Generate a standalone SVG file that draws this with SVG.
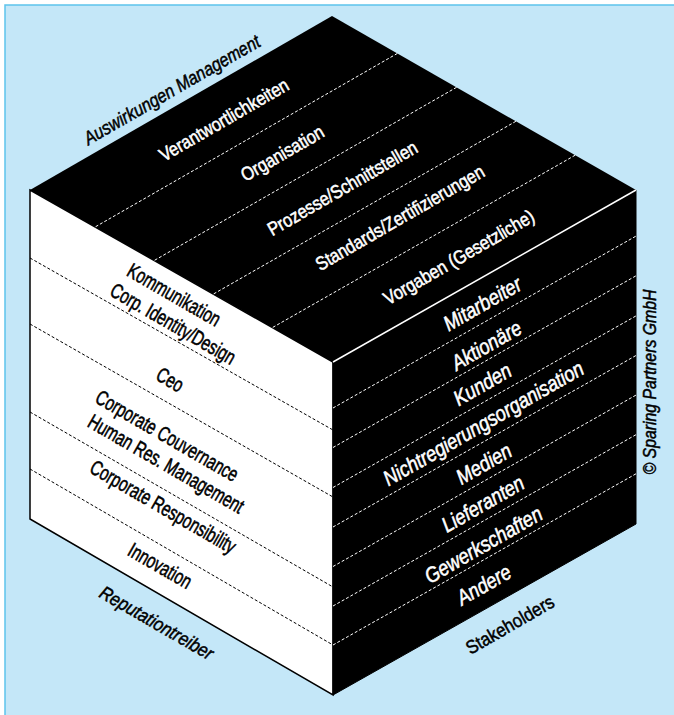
<svg xmlns="http://www.w3.org/2000/svg" width="674" height="715" viewBox="0 0 674 715">
<style>
text{font-family:"Liberation Sans",Arial,Helvetica,sans-serif;text-anchor:middle}
.top{font-size:19px;fill:#fff;stroke:#fff;stroke-width:0.55}
.lft{font-size:21px;fill:#000;stroke:#000;stroke-width:0.55}
.rgt{font-size:21.5px;fill:#fff;stroke:#fff;stroke-width:0.55;font-style:italic}
.lbl{font-size:19px;fill:#000;stroke:#000;stroke-width:0.5}
.it{font-style:italic}
.dw{stroke:#fff;stroke-width:1;stroke-dasharray:3 2;fill:none}
.db{stroke:#000;stroke-width:1;stroke-dasharray:3 2;fill:none}
</style>
<rect x="0" y="0" width="674" height="715" fill="#fff"/>
<rect id="frame" x="5" y="5" width="690" height="730" fill="#c4e7f8" stroke="#5cc3ec" stroke-width="1.5"/>

<g id="top-face">
<polygon points="332,16 636,190 333,362 30,190" fill="#000"/>
</g>
<g id="left-face">
<polygon points="30,190 333,362 333,695 30,519" fill="#fff" stroke="#000" stroke-width="1.5" stroke-linejoin="miter"/>
</g>
<g id="right-face">
<polygon points="333,362 636,190 636,524 333,695" fill="#000" stroke="#000" stroke-width="1"/>
<line x1="333" y1="362" x2="636" y2="190" stroke="#fff" stroke-width="1.5"/>
</g>

<g id="connectors">
<line class="dw" x1="397.4" y1="53.4" x2="95.1" y2="227"/>
<line class="dw" x1="456.6" y1="87.3" x2="154.2" y2="260.5"/>
<line class="dw" x1="515.9" y1="121.3" x2="213.3" y2="294.1"/>
<line class="dw" x1="575.2" y1="155.2" x2="272.4" y2="327.6"/>
<line class="db" x1="30" y1="258" x2="333" y2="430"/>
<line class="db" x1="30" y1="324" x2="333" y2="497"/>
<line class="db" x1="30" y1="412" x2="333" y2="587"/>
<line class="db" x1="30" y1="469" x2="333" y2="645"/>
<line class="dw" x1="333" y1="408" x2="636" y2="236.1"/>
<line class="dw" x1="333" y1="447.5" x2="636" y2="275.8"/>
<line class="dw" x1="333" y1="487.5" x2="636" y2="315.9"/>
<line class="dw" x1="333" y1="527" x2="636" y2="355.5"/>
<line class="dw" x1="333" y1="566.5" x2="636" y2="395.1"/>
<line class="dw" x1="333" y1="606" x2="636" y2="434.7"/>
<line class="dw" x1="333" y1="645" x2="636" y2="473.8"/>
</g>

<g id="top-texts">
<text class="top" transform="translate(224,120) rotate(-30) scale(0.86,1)" dy="0.33em">Verantwortlichkeiten</text>
<text class="top" transform="translate(282.5,153.5) rotate(-30) scale(0.86,1)" dy="0.33em">Organisation</text>
<text class="top" transform="translate(342.5,188.5) rotate(-30) scale(0.86,1)" dy="0.33em">Prozesse/Schnittstellen</text>
<text class="top" transform="translate(400,218) rotate(-30) scale(0.86,1)" dy="0.33em">Standards/Zertifizierungen</text>
<text class="top" transform="translate(459,257.5) rotate(-30) scale(0.86,1)" dy="0.33em">Vorgaben (Gesetzliche)</text>
</g>

<g id="left-texts">
<text class="lft" transform="translate(174,295) rotate(30) scale(0.72,1)" dy="0.33em">Kommunikation</text>
<text class="lft" transform="translate(173,324) rotate(30) scale(0.72,1)" dy="0.33em">Corp. Identity/Design</text>
<text class="lft" transform="translate(170,380) rotate(30) scale(0.72,1)" dy="0.33em">Ceo</text>
<text class="lft" transform="translate(167,436) rotate(30) scale(0.72,1)" dy="0.33em">Corporate Couvernance</text>
<text class="lft" transform="translate(166,464) rotate(30) scale(0.72,1)" dy="0.33em">Human Res. Management</text>
<text class="lft" transform="translate(163,507) rotate(30) scale(0.72,1)" dy="0.33em">Corporate Responsibility</text>
<text class="lft" transform="translate(160,566) rotate(30) scale(0.72,1)" dy="0.33em">Innovation</text>
</g>

<g id="right-texts">
<text class="rgt" transform="translate(482.5,304) rotate(-30) scale(0.85,1)" dy="0.33em">Mitarbeiter</text>
<text class="rgt" transform="translate(486.5,345.5) rotate(-30) scale(0.85,1)" dy="0.33em">Aktionäre</text>
<text class="rgt" transform="translate(482.5,384.5) rotate(-30) scale(0.85,1)" dy="0.33em">Kunden</text>
<text class="rgt" transform="translate(483.5,423.5) rotate(-30) scale(0.85,1)" dy="0.33em">Nichtregierungsorganisation</text>
<text class="rgt" transform="translate(484,464) rotate(-30) scale(0.85,1)" dy="0.33em">Medien</text>
<text class="rgt" transform="translate(483,504) rotate(-30) scale(0.85,1)" dy="0.33em">Lieferanten</text>
<text class="rgt" transform="translate(483.5,545) rotate(-30) scale(0.85,1)" dy="0.33em">Gewerkschaften</text>
<text class="rgt" transform="translate(484,585) rotate(-30) scale(0.85,1)" dy="0.33em">Andere</text>
</g>

<g id="labels">
<text class="lbl it" transform="translate(172,90) rotate(-30) scale(0.85,1)" dy="0.33em">Auswirkungen Management</text>
<text class="lbl it" transform="translate(156.5,623) rotate(30) scale(0.88,1)" dy="0.33em">Reputationtreiber</text>
<text class="lbl" transform="translate(510,625) rotate(-30) scale(0.89,1)" dy="0.33em">Stakeholders</text>
<text class="lbl it" transform="translate(650,382) rotate(-90) scale(0.88,1)" dy="0.33em" style="font-size:18px">© Sparing Partners GmbH</text>
</g>
</svg>
